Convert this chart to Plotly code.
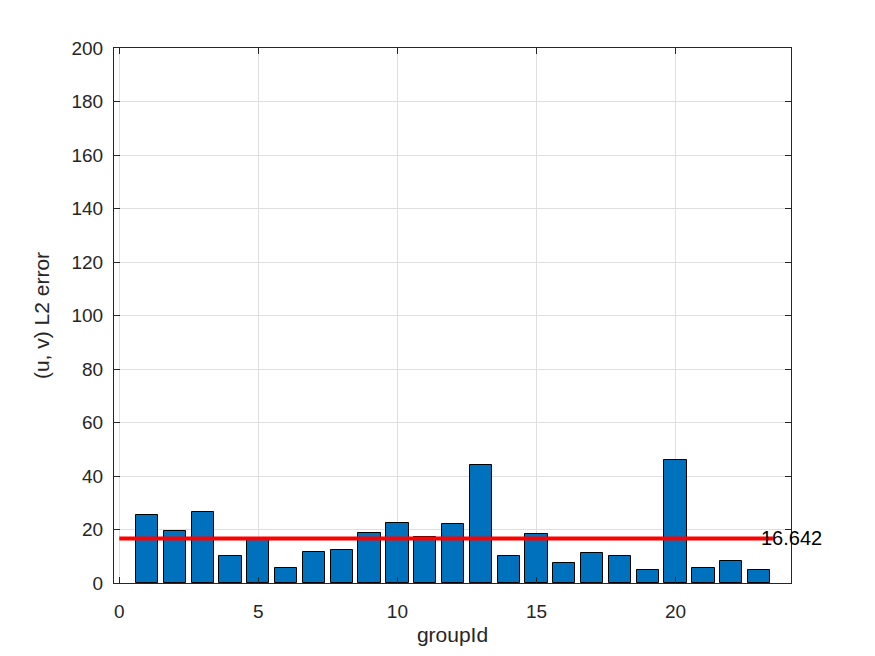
import plotly.graph_objects as go

group_ids = list(range(1, 24))
l2_error = [25.4, 19.6, 26.7, 10.1, 16.9, 5.7, 11.6, 12.5, 18.8, 22.6, 17.3, 22.1,
            44.3, 10.1, 18.4, 7.5, 11.3, 10.1, 4.9, 46.1, 5.7, 8.2, 4.9]
mean_value = 16.642
mean_line_x = [0, 23.5]
mean_label = "16.642"

FONT = "Liberation Sans, Arial, Helvetica, sans-serif"
AX = "#262626"

fig = go.Figure()
fig.add_trace(go.Bar(
    x=group_ids, y=l2_error, width=0.8,
    marker=dict(color="#0072BD", line=dict(color="black", width=1)),
    showlegend=False, hoverinfo="x+y"))
fig.add_trace(go.Scatter(
    x=mean_line_x, y=[mean_value, mean_value], mode="lines",
    line=dict(color="#ff0000", width=4), showlegend=False))
fig.add_annotation(x=23, y=mean_value, xref="x", yref="y", text=mean_label,
                   showarrow=False, xanchor="left", yanchor="middle",
                   font=dict(family=FONT, size=20, color="black"))

axis_common = dict(showline=True, linecolor=AX, linewidth=1, mirror="ticks",
                   ticks="inside", ticklen=6, tickcolor=AX, showgrid=True,
                   gridcolor="#dfdfdf", gridwidth=1, zeroline=False,
                   tickfont=dict(family=FONT, size=19, color=AX))

fig.update_layout(
    width=867, height=648,
    margin=dict(l=106, r=84, t=40, b=73),
    paper_bgcolor="white", plot_bgcolor="white",
    font=dict(family=FONT, color=AX),
    xaxis=dict(range=[-0.19, 24.15], tickvals=[0, 5, 10, 15, 20], ticklabelstandoff=11,
               title=dict(text="groupId", font=dict(family=FONT, size=21, color=AX), standoff=6),
               **axis_common),
    yaxis=dict(range=[0, 200], tickvals=list(range(0, 201, 20)), ticklabelstandoff=6,
               title=dict(text="(u, v) L2 error", font=dict(family=FONT, size=21, color=AX), standoff=16),
               **axis_common),
    bargap=0,
)

fig.write_html("out.html")
